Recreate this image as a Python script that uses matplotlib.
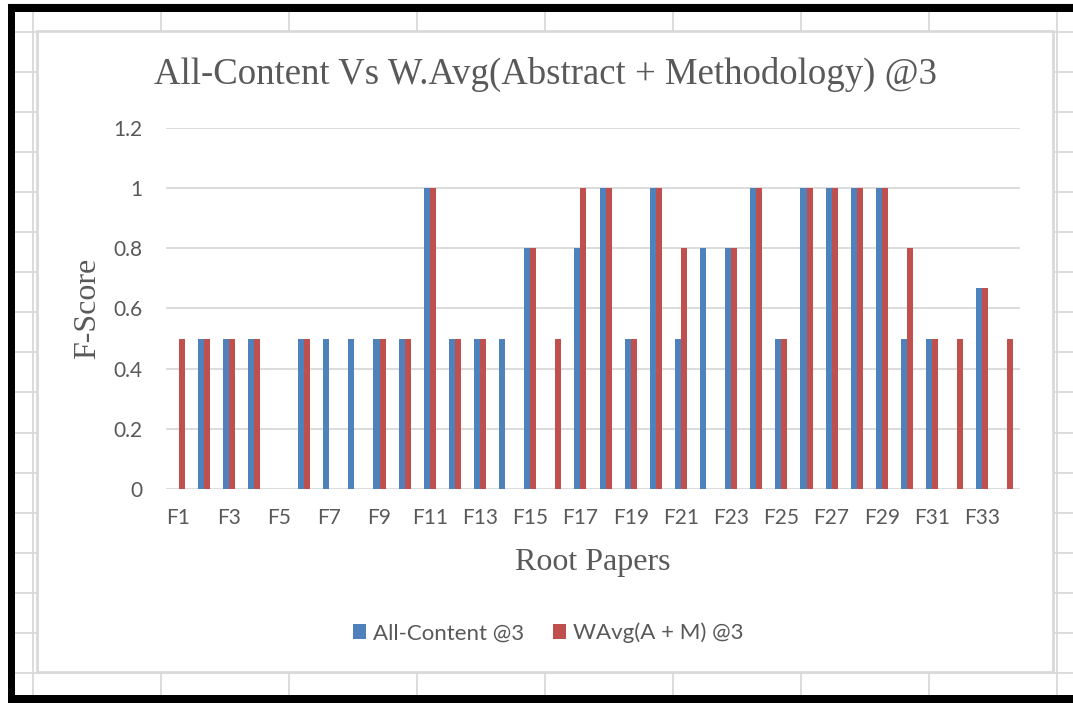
import matplotlib
matplotlib.use("Agg")
import matplotlib.pyplot as plt
from matplotlib.patches import Rectangle, Patch
import numpy as np

# ---- data ----
categories = [f"F{i}" for i in range(1, 35)]
all_content = [0, 0.5, 0.5, 0.5, 0, 0.5, 0.5, 0.5, 0.5, 0.5,
               1, 0.5, 0.5, 0.5, 0.8, 0, 0.8, 1, 0.5, 1,
               0.5, 0.8, 0.8, 1, 0.5, 1, 1, 1, 1, 0.5,
               0.5, 0, 0.667, 0]
wavg_am = [0.5, 0.5, 0.5, 0.5, 0, 0.5, 0, 0, 0.5, 0.5,
           1, 0.5, 0.5, 0, 0.8, 0.5, 1, 1, 0.5, 1,
           0.8, 0, 0.8, 1, 0.5, 1, 1, 1, 1, 0.8,
           0.5, 0.5, 0.667, 0.5]
series_names = ["All-Content @3", "WAvg(A + M) @3"]
title = "All-Content Vs W.Avg(Abstract + Methodology) @3"
xlabel = "Root Papers"
ylabel = "F-Score"
yticks = [0, 0.2, 0.4, 0.6, 0.8, 1, 1.2]
ytick_labels = ["0", "0.2", "0.4", "0.6", "0.8", "1", "1.2"]

BLUE = "#4F81BD"
RED = "#C0504D"
TXT = "#595959"
GRID = "#D9D9D9"

W, H = 1073, 703
fig = plt.figure(figsize=(W / 100, H / 100), dpi=100)
fig.patch.set_facecolor("white")

# background (spreadsheet) layer in pixel coords
bg = fig.add_axes([0, 0, 1, 1], zorder=0)
bg.set_xlim(0, W)
bg.set_ylim(H, 0)
bg.axis("off")
cell_lw = 1.3
for xv in [33, 161, 289, 417, 545, 673, 801, 929, 1057]:
    bg.plot([xv, xv], [12, 695], color=GRID, lw=cell_lw, solid_capstyle="butt")
for k in range(17):
    yv = 31.5 + 40.1 * k
    bg.plot([15, W], [yv, yv], color=GRID, lw=cell_lw, solid_capstyle="butt")
bg.plot([8, W], [3.5, 3.5], color="#BFBFBF", lw=1)
# chart area
bg.add_patch(Rectangle((37, 31), 1053 - 37, 672 - 31, facecolor="white",
                       edgecolor=GRID, lw=2, zorder=3))
# black frame
bg.add_patch(Rectangle((8, 4), W - 8, 8, facecolor="black", edgecolor="none", zorder=5))
bg.add_patch(Rectangle((8, 4), 7, H - 4, facecolor="black", edgecolor="none", zorder=5))
bg.add_patch(Rectangle((8, 695), W - 8, 8, facecolor="black", edgecolor="none", zorder=5))

# plot area
L, R, T, B = 166, 1020, 127.8, 489
ax = fig.add_axes([L / W, 1 - B / H, (R - L) / W, (B - T) / H], zorder=2)
ax.patch.set_alpha(0)
x = np.arange(len(categories))
bw = 0.24
ax.bar(x - bw / 2, all_content, bw, color=BLUE, label=series_names[0], zorder=3)
ax.bar(x + bw / 2, wavg_am, bw, color=RED, label=series_names[1], zorder=3)
ax.set_xlim(-0.5, len(categories) - 0.5)
ax.set_ylim(0, 1.2)
ax.set_yticks(yticks)
ax.set_yticklabels(ytick_labels)
ax.set_xticks(x[::2])
ax.set_xticklabels(categories[::2])
for s in ax.spines.values():
    s.set_visible(False)
ax.grid(axis="y", color=GRID, lw=1.3, zorder=0)
ax.set_axisbelow(True)
ax.tick_params(axis="both", length=0, labelcolor=TXT)
ax.tick_params(axis="y", pad=17)
ax.tick_params(axis="x", pad=14)
for lab in ax.get_xticklabels() + ax.get_yticklabels():
    lab.set_fontfamily("Lato")
    lab.set_fontsize(15)

def fx(px):
    return px / W

def fy(py):
    return 1 - py / H

fig.text(fx(545), fy(84), title, family="Liberation Serif", size=26.5,
         color=TXT, ha="center", va="baseline", zorder=6)
fig.text(fx(593), fy(570), xlabel, family="Liberation Serif", size=23,
         color=TXT, ha="center", va="baseline", zorder=6)
fig.text(fx(88), fy(308), ylabel, family="Liberation Serif", size=23,
         color=TXT, ha="center", va="center", rotation=90, zorder=6)

handles = [Patch(facecolor=BLUE), Patch(facecolor=RED)]
leg = fig.legend(handles, series_names, loc="center", bbox_to_anchor=(fx(548), fy(633)),
                 ncol=2, frameon=False, handlelength=0.6, handleheight=0.6,
                 handletextpad=0.3, columnspacing=1.3,
                 prop=dict(family="Lato", size=16))
for t in leg.get_texts():
    t.set_color(TXT)
leg.set_zorder(6)

fig.savefig("out.png", dpi=100)
